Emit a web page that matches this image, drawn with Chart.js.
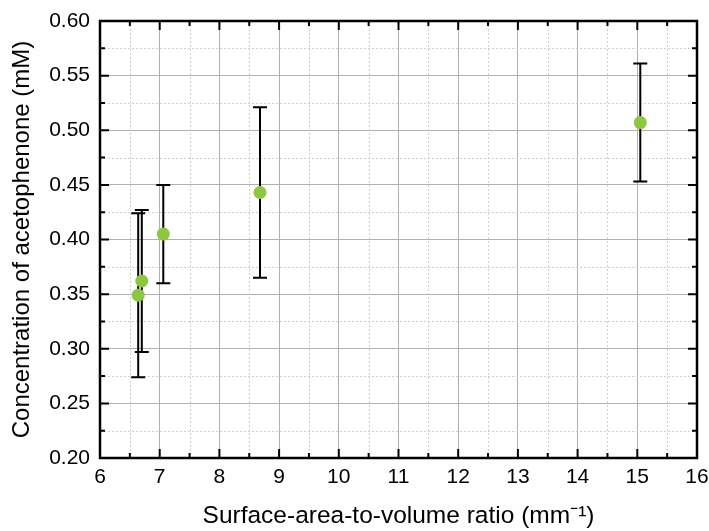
<!DOCTYPE html>
<html>
<head>
<meta charset="utf-8">
<script src="https://cdn.jsdelivr.net/npm/chart.js@4.4.0/dist/chart.umd.min.js"></script>
<style>
  html, body { margin: 0; padding: 0; background: #fff; }
  canvas { display: block; }
</style>
</head>
<body>
<canvas id="chart" width="709" height="531"></canvas>
<script>
// data
const ratio = [6.64, 6.70, 7.06, 8.68, 15.05];
const conc = [0.349, 0.362, 0.405, 0.443, 0.507];
const concErr = [0.075, 0.065, 0.045, 0.078, 0.054];

const xMin = 6, xMax = 16, xStep = 1, xMinorStep = 0.5;
const yMin = 0.20, yMax = 0.60, yStep = 0.05, yMinorStep = 0.025;

const pointColor = '#8dc63f';
const fontFamily = 'Arial, "Liberation Sans", sans-serif';

// frame, inward ticks, minor dotted grid, error bars
const framePlugin = {
  id: 'frame',
  beforeDatasetsDraw(chart) {
    const ctx = chart.ctx;
    const a = chart.chartArea;
    const x = chart.scales.x, y = chart.scales.y;
    ctx.save();
    // minor grid
    ctx.strokeStyle = '#cfcfcf';
    ctx.lineWidth = 1;
    ctx.setLineDash([2, 2]);
    for (let v = xMin + xMinorStep; v < xMax; v += xStep) {
      const px = Math.round(x.getPixelForValue(v)) + 0.5;
      ctx.beginPath(); ctx.moveTo(px, a.top); ctx.lineTo(px, a.bottom); ctx.stroke();
    }
    for (let v = yMin + yMinorStep; v < yMax; v += yStep) {
      const py = Math.round(y.getPixelForValue(v)) + 0.5;
      ctx.beginPath(); ctx.moveTo(a.left, py); ctx.lineTo(a.right, py); ctx.stroke();
    }
    ctx.setLineDash([]);
    // error bars
    ctx.strokeStyle = '#000';
    ctx.lineWidth = 2;
    ratio.forEach((rx, i) => {
      const px = x.getPixelForValue(rx);
      const top = y.getPixelForValue(conc[i] + concErr[i]);
      const bot = y.getPixelForValue(conc[i] - concErr[i]);
      ctx.beginPath();
      ctx.moveTo(px, top); ctx.lineTo(px, bot);
      ctx.moveTo(px - 7, top); ctx.lineTo(px + 7, top);
      ctx.moveTo(px - 7, bot); ctx.lineTo(px + 7, bot);
      ctx.stroke();
    });
    ctx.restore();
  },
  afterDatasetsDraw(chart) {
    const ctx = chart.ctx;
    const a = chart.chartArea;
    const x = chart.scales.x, y = chart.scales.y;
    ctx.save();
    ctx.strokeStyle = '#000';
    ctx.lineWidth = 2.5;
    ctx.strokeRect(a.left, a.top, a.right - a.left, a.bottom - a.top);
    ctx.lineWidth = 2;
    let n = 0;
    for (let v = xMin; v <= xMax + 1e-9; v += xMinorStep, n++) {
      const px = x.getPixelForValue(v);
      const len = n % 2 === 0 ? 9 : 5;
      ctx.beginPath();
      ctx.moveTo(px, a.bottom); ctx.lineTo(px, a.bottom - len);
      ctx.moveTo(px, a.top); ctx.lineTo(px, a.top + len);
      ctx.stroke();
    }
    n = 0;
    for (let v = yMin; v <= yMax + 1e-9; v += yMinorStep, n++) {
      const py = y.getPixelForValue(v);
      const len = n % 2 === 0 ? 9 : 5;
      ctx.beginPath();
      ctx.moveTo(a.left, py); ctx.lineTo(a.left + len, py);
      ctx.moveTo(a.right, py); ctx.lineTo(a.right - len, py);
      ctx.stroke();
    }
    ctx.restore();
  }
};

new Chart(document.getElementById('chart'), {
  type: 'scatter',
  data: {
    datasets: [{
      data: ratio.map((r, i) => ({ x: r, y: conc[i] })),
      backgroundColor: pointColor,
      borderColor: pointColor,
      pointRadius: 6.5,
      pointHoverRadius: 6.5,
      borderWidth: 0
    }]
  },
  options: {
    responsive: false,
    animation: false,
    layout: { padding: { top: 21, right: 12, left: 0, bottom: 0 } },
    plugins: { legend: { display: false }, tooltip: { enabled: false } },
    scales: {
      x: {
        type: 'linear', min: xMin, max: xMax,
        afterFit(s) { s.height = 73; s.paddingLeft = 0; s.paddingRight = 0; },
        ticks: { stepSize: xStep, color: '#000', padding: 7, font: { family: fontFamily, size: 21 } },
        grid: { color: '#b0b0b0', lineWidth: 1, drawTicks: false },
        border: { display: false },
        title: {
          display: true, text: 'Surface-area-to-volume ratio (mm\u207B\u00B9)', color: '#000',
          font: { family: fontFamily, size: 24.5 }, padding: { top: 10, bottom: 0 }
        }
      },
      y: {
        type: 'linear', min: yMin, max: yMax,
        afterFit(s) { s.width = 100; s.paddingTop = 0; s.paddingBottom = 0; },
        ticks: {
          stepSize: yStep, color: '#000', padding: 10,
          font: { family: fontFamily, size: 21 },
          callback: v => v.toFixed(2)
        },
        grid: { color: '#b0b0b0', lineWidth: 1, drawTicks: false },
        border: { display: false },
        title: {
          display: true, text: 'Concentration of acetophenone (mM)', color: '#000',
          font: { family: fontFamily, size: 24 }, padding: { top: 8, bottom: 0 }
        }
      }
    }
  },
  plugins: [framePlugin]
});
</script>
</body>
</html>
